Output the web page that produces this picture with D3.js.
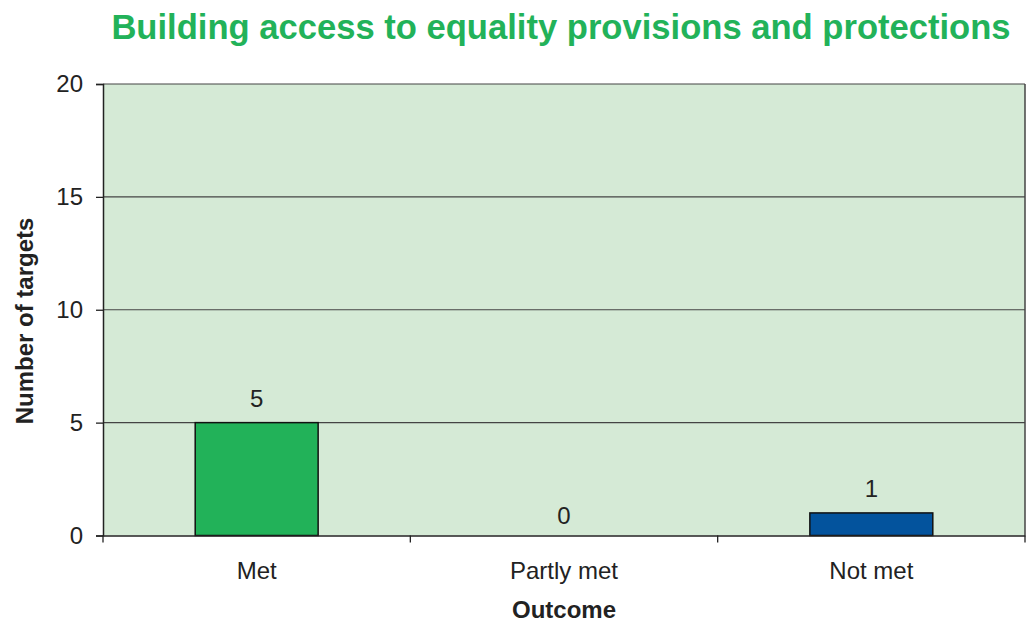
<!DOCTYPE html>
<html><head><meta charset="utf-8">
<script src="https://cdn.jsdelivr.net/npm/d3@7"></script>
<style>body{margin:0;background:#fff}svg{display:block;font-family:"Liberation Sans",Arial,sans-serif}</style>
</head><body><svg id="c" width="1026" height="622"></svg>
<script>
const categories = ["Met", "Partly met", "Not met"];
const values = [5, 0, 1];
const barColors = ["#22b259", "#22b259", "#03539d"];
const yTicks = [0, 5, 10, 15, 20];
const title = "Building access to equality provisions and protections";

const svg = d3.select("#c");
const m = {l:103, r:1025, t:84, b:535.5};
const x = d3.scaleBand().domain(categories).range([m.l, m.r]).paddingInner(0.6).paddingOuter(0.3);
const xb = d3.scaleBand().domain(categories).range([m.l, m.r]);
const y = d3.scaleLinear().domain([0, 20]).range([m.b, m.t]);
const FONT = "Liberation Sans, Arial, sans-serif";

svg.append("rect").attr("x", m.l).attr("y", m.t).attr("width", m.r - m.l).attr("height", m.b - m.t).attr("fill", "#d5ead6");

// gridlines
svg.append("g").selectAll("line").data(yTicks.filter(d => d > 0)).join("line")
  .attr("x1", m.l).attr("x2", m.r).attr("y1", d => y(d)).attr("y2", d => y(d))
  .attr("stroke", "#444").attr("stroke-width", 1.2);
svg.append("line").attr("x1", m.r).attr("x2", m.r).attr("y1", m.t).attr("y2", m.b).attr("stroke", "#444").attr("stroke-width", 1.5);

// bars
svg.append("g").selectAll("rect").data(categories).join("rect")
  .attr("x", d => x(d)).attr("width", x.bandwidth())
  .attr("y", (d, i) => y(values[i])).attr("height", (d, i) => y(0) - y(values[i]))
  .attr("fill", (d, i) => barColors[i]).attr("stroke", "#111").attr("stroke-width", 1.5)
  .attr("display", (d, i) => values[i] > 0 ? null : "none");

// value labels
svg.append("g").selectAll("text").data(categories).join("text")
  .attr("x", d => x(d) + x.bandwidth() / 2).attr("y", (d, i) => y(values[i]) - (values[i] > 0 ? 16 : 12))
  .attr("text-anchor", "middle").attr("font-size", 24).attr("fill", "#222")
  .text((d, i) => values[i]);

// y axis
const ya = svg.append("g").attr("transform", `translate(${m.l},0)`)
  .call(d3.axisLeft(y).tickValues(yTicks).tickSize(7).tickPadding(13));
ya.select(".domain").attr("stroke", "#222").attr("stroke-width", 1.5);
ya.selectAll(".tick line").attr("stroke", "#222").attr("stroke-width", 1.3);
ya.selectAll("text").attr("font-size", 24).attr("fill", "#222").attr("font-family", FONT);

// x axis
const xa = svg.append("g").attr("transform", `translate(0,${m.b})`)
  .call(d3.axisBottom(xb).tickSize(0).tickPadding(26));
xa.select(".domain").attr("stroke", "#222").attr("stroke-width", 1.5);
xa.selectAll("text").attr("font-size", 24).attr("fill", "#222").attr("font-family", FONT);
svg.append("g").selectAll("line").data(d3.range(categories.length + 1)).join("line")
  .attr("x1", i => m.l + i * xb.step()).attr("x2", i => m.l + i * xb.step())
  .attr("y1", m.b).attr("y2", m.b + 7).attr("stroke", "#222").attr("stroke-width", 1.3);

// axis titles
svg.append("text").attr("x", 564).attr("y", 618).attr("text-anchor", "middle")
  .attr("font-size", 24).attr("font-weight", "bold").attr("fill", "#222").text("Outcome");
svg.append("text").attr("transform", `translate(32.5,321) rotate(-90)`).attr("text-anchor", "middle")
  .attr("font-size", 24).attr("font-weight", "bold").attr("fill", "#222").text("Number of targets");

svg.append("text").attr("x", 561).attr("y", 39).attr("text-anchor", "middle")
  .attr("font-size", 34.6).attr("font-weight", "bold").attr("fill", "#22b259").text(title);
</script></body></html>
